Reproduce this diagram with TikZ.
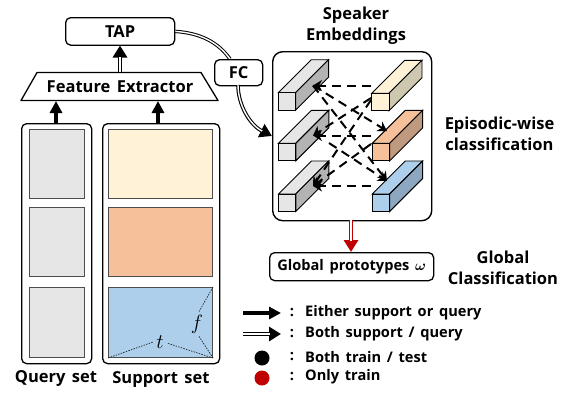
\documentclass[tikz,border=0pt]{standalone}
\usepackage{amsmath}
\usepackage{fontspec}
\setmainfont[WordSpace=1.5]{Open Sans}
\usetikzlibrary{arrows.meta,calc}
\definecolor{gfront}{HTML}{E6E6E6}
\definecolor{gside}{HTML}{B3B3B3}
\definecolor{yfront}{HTML}{FFF2D6}
\definecolor{yside}{HTML}{CFC8B0}
\definecolor{ofront}{HTML}{F5C09A}
\definecolor{oside}{HTML}{C09A7E}
\definecolor{bfront}{HTML}{AECFEB}
\definecolor{bside}{HTML}{8EA7C0}
\definecolor{redc}{HTML}{C00000}
\tikzset{
 rbox/.style={draw=black,line width=1.3pt,rounded corners=5pt,inner sep=0pt,anchor=north west},
 lbl/.style={font=\bfseries\fontsize{16.5}{18}\selectfont,inner sep=0pt,align=center,text=black},
 small/.style={font=\bfseries\fontsize{14.6}{16}\selectfont,inner sep=0pt,anchor=west},
 panel/.style={draw=black!70,line width=1pt,inner sep=0pt,anchor=north west},
 thickarrow/.style={line width=3.4pt,-{Stealth[length=12pt,width=12pt,inset=0pt]}},
 dblouter/.style={line width=3.6pt,-{Stealth[length=12pt,width=14pt,inset=0pt]}},
 dblinner/.style={line width=1.4pt,white,shorten >=11pt},
 dbl/.style={double,double distance=1.4pt,line width=1pt},
 dasharrow/.style={line width=2pt,dash pattern=on 9pt off 6pt,-{Stealth[length=9pt,width=11pt,inset=3pt]}},
 thindot/.style={line width=0.7pt,dash pattern=on 1.5pt off 1.2pt,black!85},
}
\newcommand{\cuboid}[4]{%
 \draw[line width=0.9pt,fill=#3] (#1,#2) -- ++(33,-33) -- ++(17.3,0) -- ++(-33,33) -- cycle;
 \draw[line width=0.9pt,fill=#4] (#1+17.3,#2) -- ++(33,-33) -- ++(0,17.5) -- ++(-33,33) -- cycle;
 \draw[line width=0.9pt,fill=#3] (#1,#2) rectangle ++(17.3,17.5);
}
\begin{document}
\begin{tikzpicture}[x=1pt,y=-1pt]
\useasboundingbox (0,0) rectangle (569,392);
% boxes
\node[rbox,minimum width=109pt,minimum height=27.5pt] (tap) at (65,17) {};
\node[lbl] at (tap.center) {TAP};
\draw[line width=1.3pt,line join=round] (37,72.5) -- (201,72.5) -- (218,100.5) -- (21,100.5) -- cycle;
\node[lbl] (fe) at (120,86.5) {Feature Extractor};
\node[rbox,minimum width=70pt,minimum height=240pt] (query) at (21,123) {};
\node[rbox,minimum width=117pt,minimum height=240pt] (support) at (102,123) {};
\draw[dbl] (tap.east) .. controls (200,33) and (218,42) .. (230,59);
\node[rbox,minimum width=48pt,minimum height=26pt,fill=white] (fc) at (214,59) {};
\node[lbl] at (fc.center) {FC};
\node[rbox,line width=1.4pt,rounded corners=10pt,minimum width=159pt,minimum height=169pt] (emb) at (272,51) {};
\node[rbox,minimum width=164pt,minimum height=28pt] (proto) at (269,252) {};
\node[small,anchor=center,font=\bfseries\fontsize{14.6}{16}\selectfont] at (proto.center) {Global prototypes $\boldsymbol{\omega}$};
% panels
\foreach \n/\y/\h in {q1/129/69,q2/207/69,q3/287/70}{\node[panel,fill=gfront,minimum width=55pt,minimum height=\h pt] (\n) at (29,\y) {};}
\node[panel,fill=yfront,minimum width=104pt,minimum height=69pt] (s1) at (108,129) {};
\node[panel,fill=ofront,minimum width=104pt,minimum height=69pt] (s2) at (108,207) {};
\node[panel,fill=bfront,minimum width=104pt,minimum height=70pt] (s3) at (108,287) {};
% t / f in blue panel
\node[inner sep=0pt,font=\fontsize{21}{23}\selectfont] (tl) at (160,342) {$t$};
\node[inner sep=0pt,font=\fontsize{21}{23}\selectfont] (fl) at (197,324) {$f$};
\draw[thindot] (s3.south west) -- ($(tl.west)+(-3,0)$);
\draw[thindot] (s3.south east) -- ($(tl.east)+(3,1)$);
\draw[thindot] (s3.south east) -- ($(fl.south)+(2,3)$);
\draw[thindot] (s3.north east) -- ($(fl.north)+(2,-3)$);
% cuboids
\cuboid{278.3}{92.7}{gfront}{gside}
\cuboid{278.5}{143.3}{gfront}{gside}
\cuboid{278.5}{194}{gfront}{gside}
\cuboid{371.7}{93.3}{yfront}{yside}
\cuboid{372.3}{143.3}{ofront}{oside}
\cuboid{372.3}{194}{bfront}{bside}
% dashed connections
\coordinate (la) at (313,85.5);
\coordinate (lb) at (313,135.5);
\coordinate (lc) at (313,186);
\coordinate (ra) at (371,85.5);
\coordinate (rb) at (371,135.5);
\coordinate (rc) at (371,186);
\coordinate (rbt) at (387,131);
\coordinate (rct) at (387,181);
\draw[dasharrow] (ra) -- (la);
\draw[dasharrow] (rb) -- (lb);
\draw[dasharrow] (rc) -- (lc);
\draw[dasharrow] (la) -- (rbt);
\draw[dasharrow] (la) -- (rct);
\draw[dasharrow] (371,98) -- (lb);
\draw[dasharrow] (371,100) -- (lc);
\draw[dasharrow] (371,144) -- (lc);
\draw[dasharrow] (329,143) -- (rct);
% connectors
\coordinate (qt) at (56,123); \coordinate (qf) at (56,101);
\coordinate (st) at (158,123); \coordinate (sf) at (158,101);
\coordinate (fetop) at (120,72); \coordinate (tapb) at (120,45.5);
\draw[thickarrow] (qt) -- (qf);
\draw[thickarrow] (st) -- (sf);
\draw[dblouter] (fetop) -- (tapb);
\draw[dblinner] (fetop) -- (tapb);
\coordinate (fcb) at (238,85); \coordinate (embl) at (272,136);
\draw[dblouter] (fcb) .. controls (238,105) and (250,125) .. (embl);
\draw[dblinner] (fcb) .. controls (238,105) and (250,125) .. (embl);
\coordinate (embb) at (351,220); \coordinate (protot) at (351,252);
\draw[dblouter,redc] (embb) -- (protot);
\draw[dblinner] (embb) -- (protot);
% titles
\node[lbl] (t1) at (356,26) {Speaker\\[3pt]Embeddings};
\node[lbl] (t2) at (499.5,133.5) {Episodic-wise\\[3pt]classification};
\node[lbl] (t3) at (503,267.5) {Global\\[3pt]Classification};
\node[lbl] (t4) at (56,378) {Query set};
\node[lbl] (t5) at (161,379) {Support set};
% legend
\coordinate (l1a) at (243,313); \coordinate (l1b) at (281,313);
\coordinate (l2a) at (243,334); \coordinate (l2b) at (281,334);
\draw[thickarrow] (l1a) -- (l1b);
\draw[dblouter] (l2a) -- (l2b);
\draw[dblinner] (l2a) -- (l2b);
\node[circle,fill=black,minimum size=15pt,inner sep=0pt] (d1) at (262,358) {};
\node[circle,fill=redc,minimum size=15pt,inner sep=0pt] (d2) at (262,378) {};
\foreach \y/\s in {313/{Either support or query},334/{Both support / query},357/{Both train / test},377/{Only train}}{
 \node[small,anchor=center] at (292,\y) {:};
 \node[small] at (305,\y) {\s};
}
\end{tikzpicture}
\end{document}
